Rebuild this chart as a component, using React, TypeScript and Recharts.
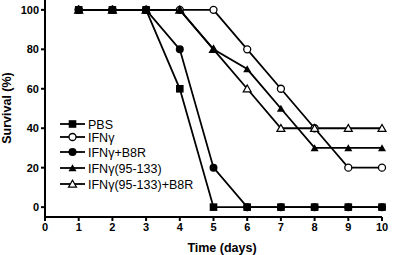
import React from 'react';
import { LineChart, Line, XAxis, YAxis } from 'recharts';

const days = [1, 2, 3, 4, 5, 6, 7, 8, 9, 10];
const pbs = [100, 100, 100, 60, 0, 0, 0, 0, 0, 0];
const ifng = [100, 100, 100, 100, 100, 80, 60, 40, 20, 20];
const ifngB8R = [100, 100, 100, 80, 20, 0, 0, 0, 0, 0];
const ifng95 = [100, 100, 100, 100, 80, 70, 50, 30, 30, 30];
const ifng95B8R = [100, 100, 100, 100, 80, 60, 40, 40, 40, 40];

const xTicks = [0, 1, 2, 3, 4, 5, 6, 7, 8, 9, 10];
const yTicks = [0, 20, 40, 60, 80, 100];

const data = days.map((d, i) => ({
  day: d,
  pbs: pbs[i],
  ifng: ifng[i],
  ifngB8R: ifngB8R[i],
  ifng95: ifng95[i],
  ifng95B8R: ifng95B8R[i],
}));

const FONT = "Arial, 'Liberation Sans', Helvetica, sans-serif";

type Kind = 'square' | 'openCircle' | 'circle' | 'triangle' | 'openTriangle';

const Marker = ({ kind, cx, cy }: { kind: Kind; cx: number; cy: number }) => {
  switch (kind) {
    case 'square':
      return <rect x={cx - 3.8} y={cy - 3.8} width={7.6} height={7.6} fill="#000" />;
    case 'openCircle':
      return <circle cx={cx} cy={cy} r={3.5} fill="#fff" stroke="#000" strokeWidth={1.3} />;
    case 'circle':
      return <circle cx={cx} cy={cy} r={4} fill="#000" />;
    case 'triangle':
      return <polygon points={`${cx - 4},${cy + 3.2} ${cx + 4},${cy + 3.2} ${cx},${cy - 3.8}`} fill="#000" />;
    case 'openTriangle':
      return (
        <polygon
          points={`${cx - 4},${cy + 3.2} ${cx + 4},${cy + 3.2} ${cx},${cy - 3.8}`}
          fill="#fff"
          stroke="#000"
          strokeWidth={1.2}
        />
      );
  }
};

const dotFor = (kind: Kind) => (props: any) => (
  <Marker key={`${kind}-${props.index}`} kind={kind} cx={props.cx} cy={props.cy} />
);

// drawn in this order, PBS last so its squares sit on top
const series: { key: string; name: string; kind: Kind }[] = [
  { key: 'ifng', name: 'IFNγ', kind: 'openCircle' },
  { key: 'ifng95B8R', name: 'IFNγ(95-133)+B8R', kind: 'openTriangle' },
  { key: 'ifngB8R', name: 'IFNγ+B8R', kind: 'circle' },
  { key: 'ifng95', name: 'IFNγ(95-133)', kind: 'triangle' },
  { key: 'pbs', name: 'PBS', kind: 'square' },
];

const legendOrder = ['pbs', 'ifng', 'ifngB8R', 'ifng95', 'ifng95B8R'];
const legendRows = [124, 137, 152, 168, 184];

export default function App() {
  return (
    <div style={{ position: 'absolute', left: 0, top: 0, width: 400, height: 255, background: '#fff' }}>
      <LineChart width={400} height={255} data={data} margin={{ top: 0, right: 18, left: 0, bottom: 0 }}>
        <XAxis
          dataKey="day"
          type="number"
          domain={[0, 10]}
          ticks={xTicks}
          interval={0}
          height={38}
          stroke="#000"
          strokeWidth={2}
          tickSize={4}
          tick={{ fill: '#000', fontSize: 11, fontWeight: 'bold', fontFamily: FONT }}
          label={{
            content: () => (
              <text x={222} y={252} textAnchor="middle" fontSize={12.5} fontWeight="bold" fontFamily={FONT} fill="#000">
                Time (days)
              </text>
            ),
          }}
        />
        <YAxis
          type="number"
          domain={[-5, 105]}
          ticks={yTicks}
          interval={0}
          width={45}
          stroke="#000"
          strokeWidth={2}
          tickSize={4}
          tick={{ fill: '#000', fontSize: 11, fontWeight: 'bold', fontFamily: FONT }}
          label={{
            content: () => (
              <text
                transform="translate(11,108) rotate(-90)"
                textAnchor="middle"
                fontSize={12.5}
                fontWeight="bold"
                fontFamily={FONT}
                fill="#000"
              >
                Survival (%)
              </text>
            ),
          }}
        />
        {series.map((s) => (
          <Line
            key={s.key}
            dataKey={s.key}
            name={s.name}
            type="linear"
            stroke="#000"
            strokeWidth={1.8}
            dot={dotFor(s.kind)}
            activeDot={false}
            isAnimationActive={false}
          />
        ))}
      </LineChart>
      <svg width={400} height={255} style={{ position: 'absolute', left: 0, top: 0, pointerEvents: 'none' }}>
        {legendOrder.map((k, i) => {
          const s = series.find((x) => x.key === k)!;
          const y = legendRows[i];
          return (
            <g key={k}>
              <line x1={60} x2={85} y1={y} y2={y} stroke="#000" strokeWidth={1.8} />
              <Marker kind={s.kind} cx={72.5} cy={y} />
              <text x={88} y={y + 4.5} fontSize={12.5} fontFamily={FONT} fill="#000">
                {s.name}
              </text>
            </g>
          );
        })}
      </svg>
    </div>
  );
}
